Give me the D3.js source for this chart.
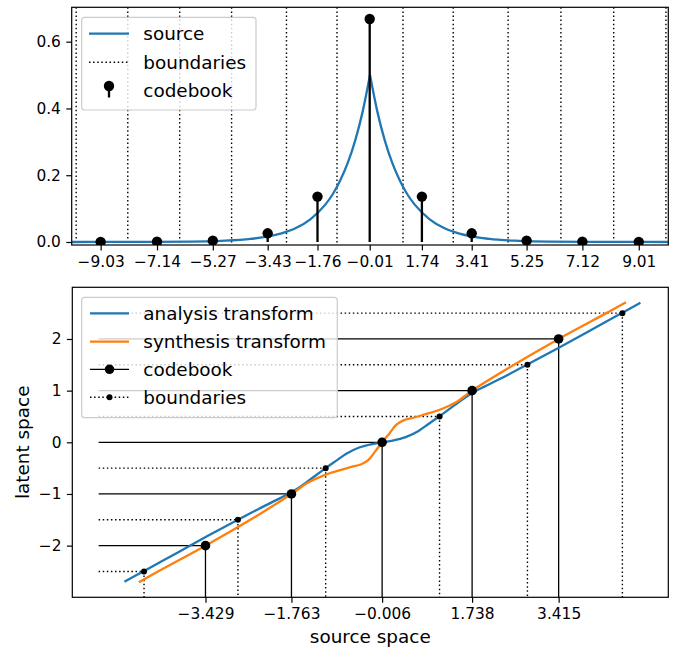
<!DOCTYPE html>
<html>
<head>
<meta charset="utf-8">
<script src="https://cdn.jsdelivr.net/npm/d3@7"></script>
<style>
  body { margin: 0; background: #fff; }
  text { font-family: "DejaVu Sans", sans-serif; fill: #000; }
</style>
</head>
<body>
<script>
// ---- data ----
// top panel: source density, codebook and boundaries
var sourceX = [-10, -8, -6, -5, -4, -3, -2.5, -2, -1.5, -1.25, -1, -0.75, -0.5, -0.25, 0,
               0.25, 0.5, 0.75, 1, 1.25, 1.5, 2, 2.5, 3, 4, 5, 6, 8, 10];
var sourceY = [0.00002, 0.00017, 0.0012, 0.0034, 0.0092, 0.025, 0.041, 0.068, 0.112, 0.143, 0.184, 0.236, 0.303, 0.389, 0.5,
               0.389, 0.303, 0.236, 0.184, 0.143, 0.112, 0.068, 0.041, 0.025, 0.0092, 0.0034, 0.0012, 0.00017, 0.00002];
var codebookTop = [-9.03, -7.14, -5.27, -3.43, -1.76, -0.01, 1.74, 3.41, 5.25, 7.12, 9.01];
var probTop = [0.0001, 0.0007, 0.004, 0.026, 0.136, 0.668, 0.136, 0.026, 0.004, 0.0007, 0.0001];
var boundsTop = [-9.85, -8.12, -6.38, -4.64, -2.80, -1.107, 1.107, 2.79, 4.63, 6.40, 8.17, 9.92];
var yTicksTop = [0, 0.2, 0.4, 0.6];

// bottom panel: transforms, codebook and boundaries
var analysisX = [-5.0, -4.6, -4.0, -3.4, -2.8, -2.4, -2.0, -1.7, -1.4, -1.1, -0.9, -0.7, -0.45, -0.2, 0,
                 0.2, 0.45, 0.7, 0.9, 1.1, 1.4, 1.7, 2.0, 2.4, 2.8, 3.4, 4.0, 4.6, 5.0];
var analysisY = [-2.70, -2.48, -2.15, -1.82, -1.50, -1.29, -1.09, -0.93, -0.72, -0.50, -0.36, -0.22, -0.10, -0.033, 0,
                 0.033, 0.10, 0.22, 0.36, 0.50, 0.72, 0.93, 1.09, 1.29, 1.50, 1.82, 2.15, 2.48, 2.70];
var synthY = [-2.71, -2.5, -2.0, -1.5, -1.0, -0.78, -0.63, -0.54, -0.48, -0.43, -0.34, -0.18, 0,
              0.18, 0.34, 0.43, 0.48, 0.54, 0.63, 0.78, 1.0, 1.5, 2.0, 2.5, 2.71];
var synthX = [-4.72, -4.35, -3.429, -2.56, -1.763, -1.44, -1.11, -0.82, -0.62, -0.42, -0.27, -0.143, -0.006,
              0.143, 0.27, 0.42, 0.62, 0.82, 1.11, 1.436, 1.738, 2.55, 3.415, 4.34, 4.72];
var codeX = [-3.429, -1.763, -0.006, 1.738, 3.415];
var codeY = [-2, -1, 0, 1, 2];
var boundX = [-4.62, -2.80, -1.10, 1.107, 2.81, 4.65];
var boundY = [-2.5, -1.5, -0.5, 0.5, 1.5, 2.5];
var yTicksBot = [-2, -1, 0, 1, 2];
var lineStart = -5.5;   // where the guide lines start in source space

var blue = "#1f77b4", orange = "#ff7f0e";
var tickFont = 15.4, labelFont = 18.4;
var dotted = "1.5,2.6";
var minus = function(s) { return s.replace("-", "\u2212"); };

var svg = d3.select("body").append("svg")
    .attr("width", 678)
    .attr("height", 649);

// ================= TOP PANEL =================
var topBox = {left: 71.7, right: 668.3, top: 7.3, bottom: 245};
var x1 = d3.scaleLinear().domain([-10, 10]).range([topBox.left, topBox.right]);
var y1 = d3.scaleLinear().domain([-0.009, 0.703]).range([topBox.bottom, topBox.top]);

svg.append("clipPath").attr("id", "clipTop")
  .append("rect")
    .attr("x", topBox.left).attr("y", topBox.top)
    .attr("width", topBox.right - topBox.left).attr("height", topBox.bottom - topBox.top);

var g1 = svg.append("g").attr("clip-path", "url(#clipTop)");

// boundaries
g1.selectAll(".bnd")
    .data(boundsTop)
  .enter().append("line")
    .attr("x1", function(d) { return x1(d); })
    .attr("x2", function(d) { return x1(d); })
    .attr("y1", topBox.top)
    .attr("y2", topBox.bottom)
    .attr("stroke", "#000")
    .attr("stroke-width", 1.4)
    .attr("stroke-dasharray", dotted);

// source curve, drawn as two halves so the peak stays sharp
var srcPts = sourceX.map(function(d, i) { return [d, sourceY[i]]; });
var peak = sourceY.indexOf(d3.max(sourceY));
var srcLine = d3.line()
    .x(function(d) { return x1(d[0]); })
    .y(function(d) { return y1(d[1]); })
    .curve(d3.curveMonotoneX);
[srcPts.slice(0, peak + 1), srcPts.slice(peak)].forEach(function(part) {
  g1.append("path")
    .attr("d", srcLine(part))
    .attr("fill", "none")
    .attr("stroke", blue)
    .attr("stroke-width", 2.3);
});

// codebook stems
g1.selectAll(".stem")
    .data(codebookTop)
  .enter().append("line")
    .attr("x1", function(d) { return x1(d); })
    .attr("x2", function(d) { return x1(d); })
    .attr("y1", y1(0))
    .attr("y2", function(d, i) { return y1(probTop[i]); })
    .attr("stroke", "#000")
    .attr("stroke-width", 2.3);
g1.selectAll(".head")
    .data(codebookTop)
  .enter().append("circle")
    .attr("cx", function(d) { return x1(d); })
    .attr("cy", function(d, i) { return y1(probTop[i]); })
    .attr("r", 5.2)
    .attr("fill", "#000");

// axes
var ax1 = svg.append("g")
    .attr("transform", "translate(0," + topBox.bottom + ")")
    .call(d3.axisBottom(x1).tickValues(codebookTop).tickSize(5.4).tickPadding(5.4)
      .tickFormat(function(d) { return minus(d3.format(".2f")(d)); }));
var ay1 = svg.append("g")
    .attr("transform", "translate(" + topBox.left + ",0)")
    .call(d3.axisLeft(y1).tickValues(yTicksTop).tickSize(5.4).tickPadding(5.4)
      .tickFormat(d3.format(".1f")));
svg.append("rect")
    .attr("x", topBox.left).attr("y", topBox.top)
    .attr("width", topBox.right - topBox.left).attr("height", topBox.bottom - topBox.top)
    .attr("fill", "none").attr("stroke", "#000").attr("stroke-width", 1.2);

// legend
var leg1 = svg.append("g");
leg1.append("rect")
    .attr("x", 81.7).attr("y", 17.3).attr("width", 174.3).attr("height", 92.7)
    .attr("rx", 3).attr("fill", "#fff").attr("fill-opacity", 0.8)
    .attr("stroke", "#cccccc").attr("stroke-width", 1.2);
leg1.append("line").attr("x1", 89).attr("x2", 129).attr("y1", 33.7).attr("y2", 33.7)
    .attr("stroke", blue).attr("stroke-width", 2.3);
leg1.append("line").attr("x1", 89).attr("x2", 129).attr("y1", 62.3).attr("y2", 62.3)
    .attr("stroke", "#000").attr("stroke-width", 1.4).attr("stroke-dasharray", dotted);
leg1.append("line").attr("x1", 109).attr("x2", 109).attr("y1", 86).attr("y2", 97.5)
    .attr("stroke", "#000").attr("stroke-width", 2.3);
leg1.append("circle").attr("cx", 109).attr("cy", 86).attr("r", 5.2).attr("fill", "#000");
["source", "boundaries", "codebook"].forEach(function(t, i) {
  leg1.append("text")
    .attr("x", 143.3).attr("y", [33.7, 62.3, 90.7][i]).attr("dy", "0.35em")
    .style("font-size", labelFont + "px")
    .text(t);
});

// ================= BOTTOM PANEL =================
var botBox = {left: 72.3, right: 668.3, top: 287.3, bottom: 597.3};
var x2 = d3.scaleLinear().domain([-6.01, 5.54]).range([botBox.left, botBox.right]);
var y2 = d3.scaleLinear().domain([-3, 3]).range([botBox.bottom, botBox.top]);

svg.append("clipPath").attr("id", "clipBot")
  .append("rect")
    .attr("x", botBox.left).attr("y", botBox.top)
    .attr("width", botBox.right - botBox.left).attr("height", botBox.bottom - botBox.top);

var g2 = svg.append("g").attr("clip-path", "url(#clipBot)");

// guide lines for codebook (solid) and boundaries (dotted)
function guides(xs, ys, dash) {
  xs.forEach(function(d, i) {
    g2.append("line")
      .attr("x1", x2(lineStart)).attr("x2", x2(d))
      .attr("y1", y2(ys[i])).attr("y2", y2(ys[i]))
      .attr("stroke", "#000").attr("stroke-width", dash ? 1.4 : 1.3)
      .attr("stroke-dasharray", dash);
    g2.append("line")
      .attr("x1", x2(d)).attr("x2", x2(d))
      .attr("y1", y2(ys[i])).attr("y2", botBox.bottom)
      .attr("stroke", "#000").attr("stroke-width", dash ? 1.4 : 1.3)
      .attr("stroke-dasharray", dash);
  });
}
guides(boundX, boundY, dotted);
guides(codeX, codeY, null);

var tLine = d3.line()
    .x(function(d) { return x2(d[0]); })
    .y(function(d) { return y2(d[1]); })
    .curve(d3.curveMonotoneX);
var smoothLine = d3.line()
    .x(function(d) { return x2(d[0]); })
    .y(function(d) { return y2(d[1]); })
    .curve(d3.curveCatmullRom.alpha(0.5));

g2.append("path")
    .attr("d", tLine(analysisX.map(function(d, i) { return [d, analysisY[i]]; })))
    .attr("fill", "none").attr("stroke", blue).attr("stroke-width", 2.3);
g2.append("path")
    .attr("d", smoothLine(synthX.map(function(d, i) { return [d, synthY[i]]; })))
    .attr("fill", "none").attr("stroke", orange).attr("stroke-width", 2.3);

g2.selectAll(".bdot")
    .data(boundX)
  .enter().append("circle")
    .attr("cx", function(d) { return x2(d); })
    .attr("cy", function(d, i) { return y2(boundY[i]); })
    .attr("r", 3)
    .attr("fill", "#000");
g2.selectAll(".cdot")
    .data(codeX)
  .enter().append("circle")
    .attr("cx", function(d) { return x2(d); })
    .attr("cy", function(d, i) { return y2(codeY[i]); })
    .attr("r", 4.8)
    .attr("fill", "#000");

var ax2 = svg.append("g")
    .attr("transform", "translate(0," + botBox.bottom + ")")
    .call(d3.axisBottom(x2).tickValues(codeX).tickSize(5.4).tickPadding(5.4)
      .tickFormat(function(d) { return minus(d3.format(".3f")(d)); }));
var ay2 = svg.append("g")
    .attr("transform", "translate(" + botBox.left + ",0)")
    .call(d3.axisLeft(y2).tickValues(yTicksBot).tickSize(5.4).tickPadding(5.4)
      .tickFormat(function(d) { return minus(String(d)); }));
svg.append("rect")
    .attr("x", botBox.left).attr("y", botBox.top)
    .attr("width", botBox.right - botBox.left).attr("height", botBox.bottom - botBox.top)
    .attr("fill", "none").attr("stroke", "#000").attr("stroke-width", 1.2);

// style all axes like matplotlib
[ax1, ay1, ax2, ay2].forEach(function(a) {
  a.select(".domain").remove();
  a.selectAll(".tick line").attr("stroke", "#000").attr("stroke-width", 1.2);
  a.selectAll(".tick text")
    .style("font-family", "DejaVu Sans, sans-serif")
    .style("font-size", tickFont + "px")
    .attr("fill", "#000");
});

// axis labels
svg.append("text")
    .attr("x", (botBox.left + botBox.right) / 2).attr("y", 643)
    .attr("text-anchor", "middle")
    .style("font-size", labelFont + "px")
    .text("source space");
svg.append("text")
    .attr("transform", "translate(29," + (botBox.top + botBox.bottom) / 2 + ") rotate(-90)")
    .attr("text-anchor", "middle")
    .style("font-size", labelFont + "px")
    .text("latent space");

// legend
var leg2 = svg.append("g");
leg2.append("rect")
    .attr("x", 81.7).attr("y", 297.3).attr("width", 255.6).attr("height", 120.4)
    .attr("rx", 3).attr("fill", "#fff").attr("fill-opacity", 0.8)
    .attr("stroke", "#cccccc").attr("stroke-width", 1.2);
var ly = [313.3, 341.7, 369.3, 397.3];
leg2.append("line").attr("x1", 90).attr("x2", 129).attr("y1", ly[0]).attr("y2", ly[0])
    .attr("stroke", blue).attr("stroke-width", 2.3);
leg2.append("line").attr("x1", 90).attr("x2", 129).attr("y1", ly[1]).attr("y2", ly[1])
    .attr("stroke", orange).attr("stroke-width", 2.3);
leg2.append("line").attr("x1", 90).attr("x2", 129).attr("y1", ly[2]).attr("y2", ly[2])
    .attr("stroke", "#000").attr("stroke-width", 1.3);
leg2.append("circle").attr("cx", 109.5).attr("cy", ly[2]).attr("r", 4.8).attr("fill", "#000");
leg2.append("line").attr("x1", 90).attr("x2", 129).attr("y1", ly[3]).attr("y2", ly[3])
    .attr("stroke", "#000").attr("stroke-width", 1.4).attr("stroke-dasharray", dotted);
leg2.append("circle").attr("cx", 109.5).attr("cy", ly[3]).attr("r", 3).attr("fill", "#000");
["analysis transform", "synthesis transform", "codebook", "boundaries"].forEach(function(t, i) {
  leg2.append("text")
    .attr("x", 143.3).attr("y", ly[i]).attr("dy", "0.35em")
    .style("font-size", labelFont + "px")
    .text(t);
});
</script>
</body>
</html>
